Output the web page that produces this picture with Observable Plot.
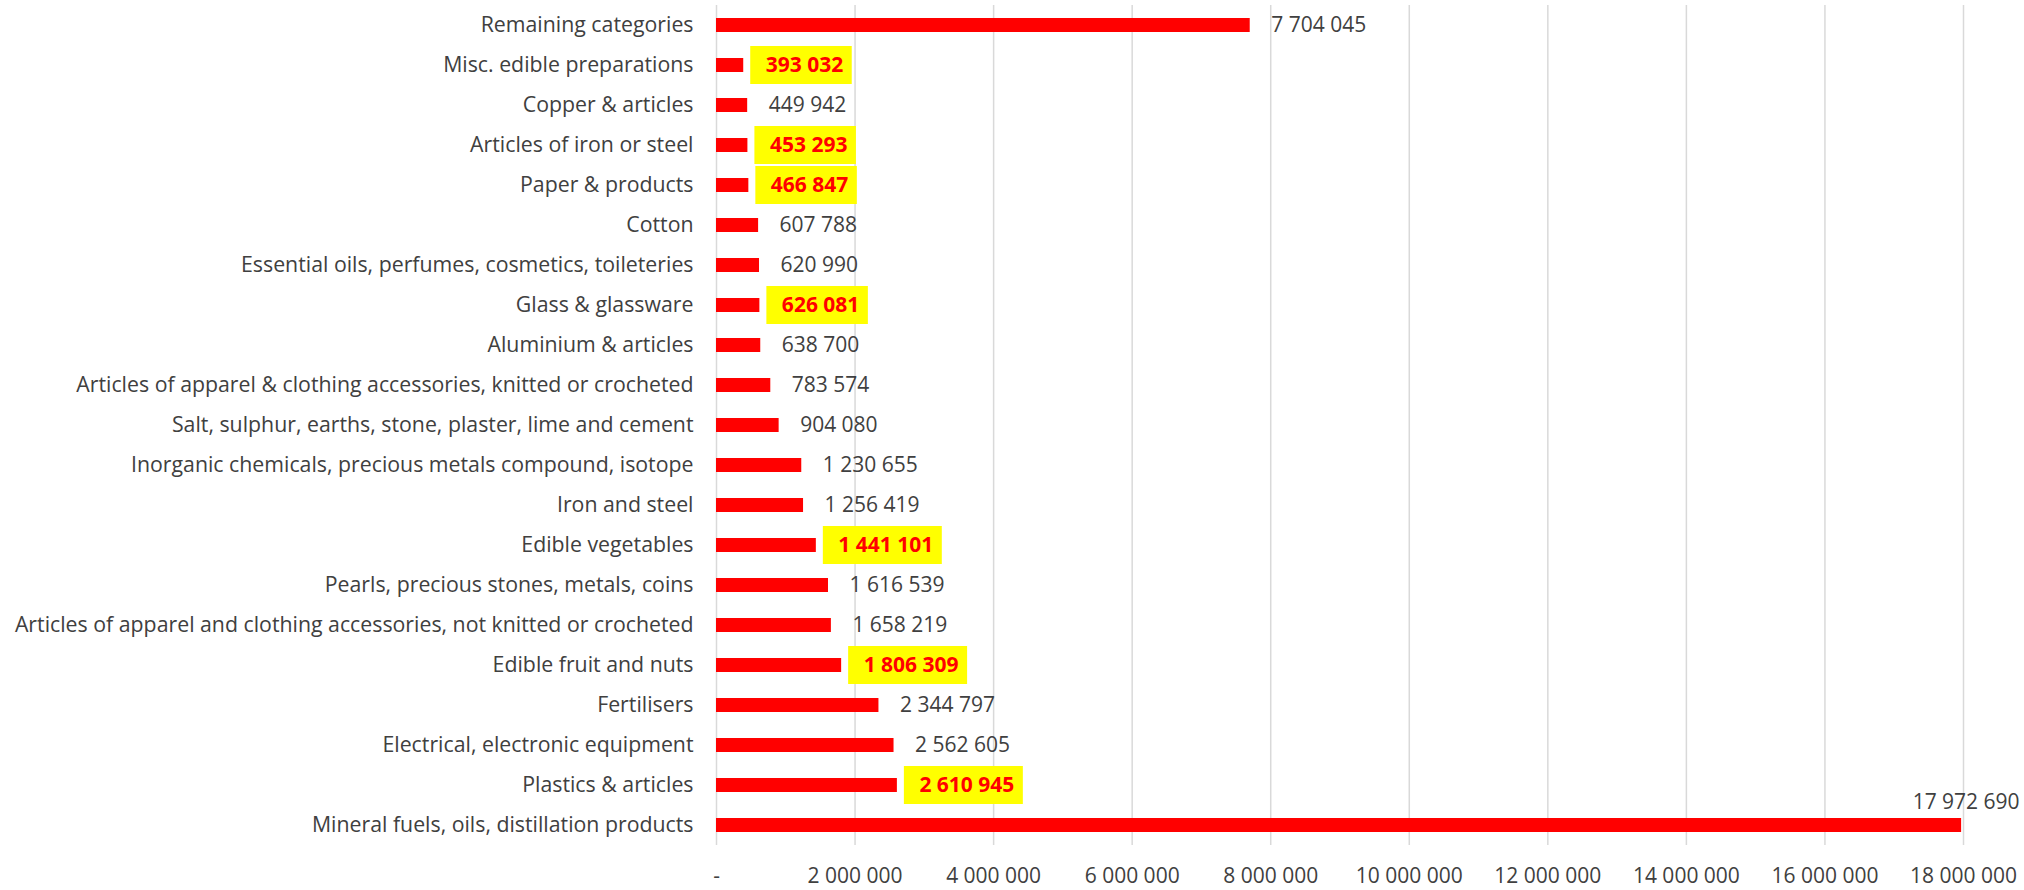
<!DOCTYPE html>
<html>
<head>
<meta charset="utf-8">
<script src="https://cdn.jsdelivr.net/npm/d3@7"></script>
<script src="https://cdn.jsdelivr.net/npm/@observablehq/plot@0.6"></script>
<style>
  html, body { margin: 0; padding: 0; background: #fff; }
  #chart { width: 2024px; height: 890px; }
</style>
</head>
<body>
<div id="chart"></div>
<script>
const categories = [
  "Remaining categories",
  "Misc. edible preparations",
  "Copper & articles",
  "Articles of iron or steel",
  "Paper & products",
  "Cotton",
  "Essential oils, perfumes, cosmetics, toileteries",
  "Glass & glassware",
  "Aluminium & articles",
  "Articles of apparel & clothing accessories, knitted or crocheted",
  "Salt, sulphur, earths, stone, plaster, lime and cement",
  "Inorganic chemicals, precious metals compound, isotope",
  "Iron and steel",
  "Edible vegetables",
  "Pearls, precious stones, metals, coins",
  "Articles of apparel and clothing accessories, not knitted or crocheted",
  "Edible fruit and nuts",
  "Fertilisers",
  "Electrical, electronic equipment",
  "Plastics & articles",
  "Mineral fuels, oils, distillation products"
];
const values = [
  7704045, 393032, 449942, 453293, 466847, 607788, 620990, 626081, 638700,
  783574, 904080, 1230655, 1256419, 1441101, 1616539, 1658219, 1806309,
  2344797, 2562605, 2610945, 17972690
];
const highlighted = [
  "Misc. edible preparations",
  "Articles of iron or steel",
  "Paper & products",
  "Glass & glassware",
  "Edible vegetables",
  "Edible fruit and nuts",
  "Plastics & articles"
];
const xTicks = [0, 2000000, 4000000, 6000000, 8000000, 10000000, 12000000, 14000000, 16000000, 18000000];

const W = 2024, H = 890;
const mL = 716, mR = 61, mT = 5, mB = 45;
const xMax = 18000000;
const FONT = "'Open Sans', 'DejaVu Sans', sans-serif";

const loc = d3.formatLocale({decimal: ".", thousands: " ", grouping: [3], currency: ["", ""]});
const fmt = loc.format(",d");
const tickFmt = d => d === 0 ? "-" : fmt(d);

const data = categories.map((c, i) => ({
  category: c,
  value: values[i],
  hl: highlighted.includes(c),
  label: fmt(values[i])
}));
const maxV = d3.max(values);

// measure bold label widths for highlight boxes
const ctx = document.createElement("canvas").getContext("2d");
ctx.font = "bold 21px 'Open Sans'";
const pxPerUnit = (W - mL - mR) / xMax;
const boxes = data.filter(d => d.hl).map(d => {
  const tw = ctx.measureText(d.label).width;
  return {
    category: d.category,
    x1: d.value + 7 / pxPerUnit,
    x2: d.value + (22 + tw + 9) / pxPerUnit
  };
});

const plot = Plot.plot({
  width: W,
  height: H,
  marginLeft: mL,
  marginRight: mR,
  marginTop: mT,
  marginBottom: mB,
  style: {fontFamily: FONT, fontSize: "21px", color: "#404040", background: "#fff"},
  x: {domain: [0, xMax], label: null},
  y: {domain: categories, padding: 0, label: null},
  marks: [
    Plot.ruleX(xTicks, {stroke: "#d9d9d9", strokeWidth: 1.5}),
    Plot.barX(data, {y: "category", x: "value", fill: "#ff0000", insetTop: 13, insetBottom: 13}),
    Plot.rect(boxes, {y: "category", x1: "x1", x2: "x2", fill: "#ffff00", insetTop: 1, insetBottom: 1}),
    Plot.text(data.filter(d => !d.hl && d.value !== maxV), {
      y: "category", x: "value", text: "label", textAnchor: "start", dx: 21,
      fill: "#404040", fontSize: 21
    }),
    Plot.text(data.filter(d => d.hl), {
      y: "category", x: "value", text: "label", textAnchor: "start", dx: 22,
      fill: "#ff0000", fontSize: 21, fontWeight: "bold"
    }),
    Plot.text(data.filter(d => d.value === maxV), {
      y: "category", x: "value", text: "label", textAnchor: "end", dx: 58, dy: -23,
      fill: "#404040", fontSize: 21
    }),
    Plot.axisY({tickSize: 0, tickPadding: 23, fontSize: 21.3, fill: "#404040", label: null}),
    Plot.axisX({ticks: xTicks, tickFormat: tickFmt, tickSize: 0, tickPadding: 23, fontSize: 21, fill: "#404040", label: null})
  ]
});
document.getElementById("chart").appendChild(plot);
</script>
</body>
</html>
